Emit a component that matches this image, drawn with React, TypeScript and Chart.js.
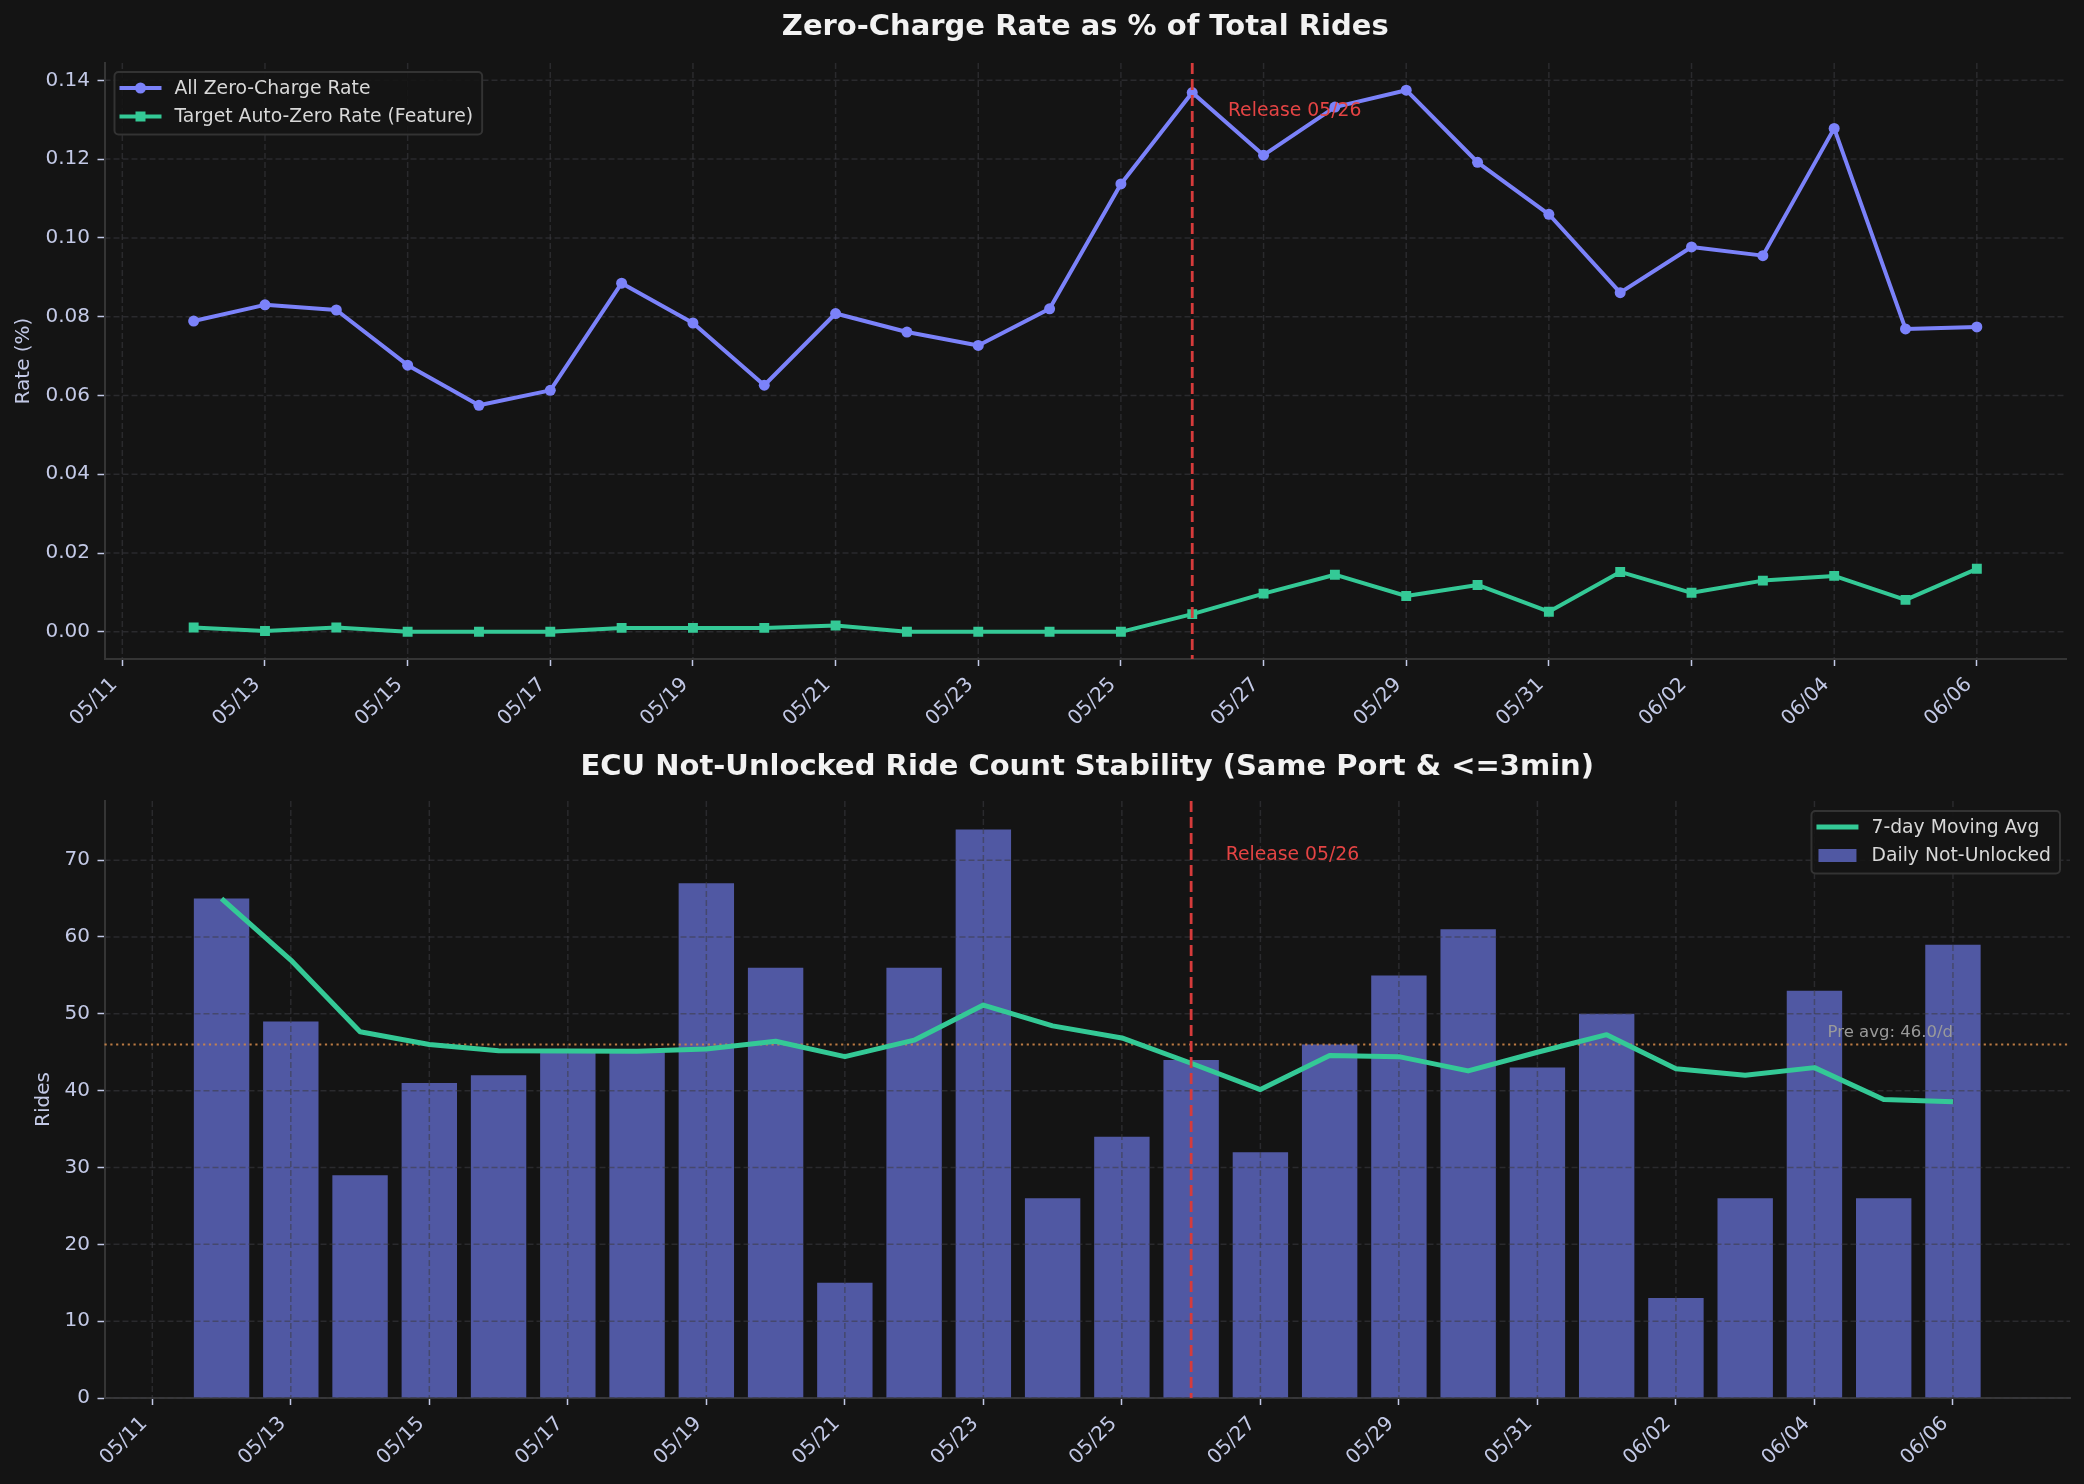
import React, { useEffect, useRef } from "react";
import { Chart, registerables } from "chart.js";

Chart.register(...registerables);

const FAMILY = "'DejaVu Sans', 'Liberation Sans', sans-serif";
const BG = "#141414";
const TICK = "#c3c9e6";
const SPINE = "#353535";
const GRID = "rgba(60, 60, 66, 0.55)";
const BLUE = "#7b82fa";
const GREEN = "#34c996";
const BAR = "#5058a3";
const RED = "#d63b3b";
const ORANGE = "rgba(205, 133, 72, 0.9)";

const W = 2084;
const TOP_H = 740;
const BOTTOM_H = 744;

// one entry per day
const days = [
    "05/12", "05/13", "05/14", "05/15", "05/16", "05/17", "05/18", "05/19", "05/20",
    "05/21", "05/22", "05/23", "05/24", "05/25", "05/26", "05/27", "05/28", "05/29",
    "05/30", "05/31", "06/01", "06/02", "06/03", "06/04", "06/05", "06/06",
];

// x tick labels, every other day starting at 05/11
const dateTicks = [
    "05/11", "05/13", "05/15", "05/17", "05/19", "05/21", "05/23",
    "05/25", "05/27", "05/29", "05/31", "06/02", "06/04", "06/06",
];

const rateTicks = [0, 0.02, 0.04, 0.06, 0.08, 0.1, 0.12, 0.14];
const rideTicks = [0, 10, 20, 30, 40, 50, 60, 70];

const allZeroRate = [
    0.0789, 0.083, 0.0817, 0.0677, 0.0575, 0.0613, 0.0885, 0.0784, 0.0626,
    0.0808, 0.0761, 0.0727, 0.082, 0.1137, 0.1369, 0.121, 0.1332, 0.1375,
    0.1192, 0.106, 0.0861, 0.0977, 0.0955, 0.1278, 0.0769, 0.0774,
];

const targetAutoZeroRate = [
    0.0011, 0.0002, 0.0011, 0.0, 0.0, 0.0, 0.001, 0.001, 0.001,
    0.0016, 0.0, 0.0, 0.0, 0.0, 0.0045, 0.0097, 0.0145, 0.0091,
    0.0119, 0.0051, 0.0152, 0.0099, 0.013, 0.0142, 0.0081, 0.016,
];

const dailyNotUnlocked = [
    65, 49, 29, 41, 42, 45, 45, 67, 56, 15, 56, 74, 26,
    34, 44, 32, 46, 55, 61, 43, 50, 13, 26, 53, 26, 59,
];

const movingAvg7 = [
    65.0, 57.0, 47.67, 46.0, 45.2, 45.17, 45.14, 45.43, 46.43, 44.43, 46.57, 51.14, 48.43,
    46.86, 43.57, 40.14, 44.57, 44.43, 42.57, 45.0, 47.29, 42.86, 42.0, 43.0, 38.86, 38.57,
];

const releaseDay = "05/26";
const preAvg = 46.0;

// position on the linear x axis: 05/11 = 0
const dayPos = (d: string) => days.indexOf(d) + 1;
const points = (values: number[]) => days.map((d, i) => ({ x: dayPos(d), y: values[i] }));

type LegendItem = { label: string; color: string; kind: "circle" | "square" | "line" | "bar" };

function drawLegend(chart: Chart, items: LegendItem[], corner: "left" | "right") {
    const { ctx, chartArea } = chart;
    ctx.save();
    ctx.font = `18.8px ${FAMILY}`;
    const textW = Math.max(...items.map((it) => ctx.measureText(it.label).width));
    const w = 60 + textW + 9;
    const rowH = 28.5;
    const h = 16 + rowH * (items.length - 1) + 18;
    const x0 = corner === "left" ? chartArea.left + 10 : chartArea.right - 10 - w;
    const y0 = chartArea.top + (corner === "left" ? 9 : 10);
    ctx.fillStyle = "rgba(20, 20, 20, 0.85)";
    ctx.strokeStyle = "#333333";
    ctx.lineWidth = 2;
    ctx.beginPath();
    ctx.roundRect(x0, y0, w, h, 4);
    ctx.fill();
    ctx.stroke();
    items.forEach((it, i) => {
        const cy = y0 + 16 + i * rowH;
        ctx.fillStyle = it.color;
        ctx.strokeStyle = it.color;
        if (it.kind === "bar") {
            ctx.fillRect(x0 + 7, cy - 6.5, 38, 13);
        } else {
            ctx.lineWidth = it.kind === "line" ? 5 : 4;
            ctx.beginPath();
            ctx.moveTo(x0 + 5, cy);
            ctx.lineTo(x0 + 47, cy);
            ctx.stroke();
            if (it.kind === "circle") {
                ctx.beginPath();
                ctx.arc(x0 + 26, cy, 5.5, 0, Math.PI * 2);
                ctx.fill();
            } else if (it.kind === "square") {
                ctx.fillRect(x0 + 21, cy - 5, 10, 10);
            }
        }
        ctx.fillStyle = "#d8d8d8";
        ctx.textAlign = "left";
        ctx.textBaseline = "middle";
        ctx.fillText(it.label, x0 + 60, cy + 1);
    });
    ctx.restore();
}

function drawGrid(chart: Chart) {
    const { ctx, chartArea: a, scales } = chart;
    ctx.save();
    ctx.strokeStyle = GRID;
    ctx.lineWidth = 1.5;
    ctx.setLineDash([6, 3]);
    scales.x.ticks.forEach((t) => {
        const px = scales.x.getPixelForValue(t.value);
        ctx.beginPath();
        ctx.moveTo(px, a.top);
        ctx.lineTo(px, a.bottom);
        ctx.stroke();
    });
    scales.y.ticks.forEach((t) => {
        const py = scales.y.getPixelForValue(t.value);
        ctx.beginPath();
        ctx.moveTo(a.left, py);
        ctx.lineTo(a.right, py);
        ctx.stroke();
    });
    ctx.restore();
}

function drawTitle(chart: Chart, text: string) {
    const { ctx, chartArea } = chart;
    ctx.save();
    ctx.font = `bold 29px ${FAMILY}`;
    ctx.fillStyle = "#f2f2f2";
    ctx.textAlign = "center";
    ctx.textBaseline = "middle";
    ctx.fillText(text, (chartArea.left + chartArea.right) / 2, 27);
    ctx.restore();
}

function drawRelease(chart: Chart, textY: number) {
    const { ctx, chartArea: a, scales } = chart;
    const px = scales.x.getPixelForValue(dayPos(releaseDay));
    ctx.save();
    ctx.strokeStyle = RED;
    ctx.lineWidth = 2.8;
    ctx.setLineDash([11, 5]);
    ctx.beginPath();
    ctx.moveTo(px, a.top);
    ctx.lineTo(px, a.bottom);
    ctx.stroke();
    ctx.font = `18.8px ${FAMILY}`;
    ctx.fillStyle = "#e44444";
    ctx.textAlign = "left";
    ctx.textBaseline = "middle";
    ctx.fillText(
        `Release ${releaseDay}`,
        scales.x.getPixelForValue(dayPos(releaseDay) + 0.5),
        scales.y.getPixelForValue(textY)
    );
    ctx.restore();
}

const xScale = (min: number, max: number, height: number) => ({
    type: "linear" as const,
    min,
    max,
    offset: false,
    afterFit: (s: any) => {
        s.height = height;
    },
    afterBuildTicks: (s: any) => {
        s.ticks = dateTicks.map((_, i) => ({ value: i * 2 }));
    },
    ticks: {
        autoSkip: false,
        maxRotation: 45,
        minRotation: 45,
        padding: 7,
        labelOffset: -8,
        color: TICK,
        font: { family: FAMILY, size: 20 },
        callback: (v: any) => dateTicks[Math.round(Number(v) / 2)] ?? "",
    },
    grid: { drawOnChartArea: false, offset: false, tickLength: 7, tickColor: TICK, tickWidth: 1.5 },
    border: { color: SPINE, width: 2 },
});

const yScale = (min: number, max: number, tickValues: number[], digits: number, title: string, titlePad: number) => ({
    type: "linear" as const,
    min,
    max,
    afterFit: (s: any) => {
        s.width = 104.5;
    },
    afterBuildTicks: (s: any) => {
        s.ticks = tickValues.map((v) => ({ value: v }));
    },
    ticks: {
        padding: 7.5,
        color: TICK,
        font: { family: FAMILY, size: 20 },
        callback: (v: any) => Number(v).toFixed(digits),
    },
    grid: { drawOnChartArea: false, tickLength: 7, tickColor: TICK, tickWidth: 1.5 },
    border: { color: SPINE, width: 2 },
    title: {
        display: true,
        text: title,
        color: TICK,
        font: { family: FAMILY, size: 20 },
        padding: { top: titlePad, bottom: 0 },
    },
});

const RateChart: React.FC = () => {
    const ref = useRef<HTMLCanvasElement | null>(null);

    useEffect(() => {
        if (!ref.current) return;
        const chart = new Chart(ref.current, {
            type: "line",
            data: {
                datasets: [
                    {
                        label: "All Zero-Charge Rate",
                        data: points(allZeroRate),
                        borderColor: BLUE,
                        backgroundColor: BLUE,
                        borderWidth: 4,
                        borderJoinStyle: "round",
                        pointStyle: "circle",
                        pointRadius: 5.5,
                        pointBorderWidth: 0,
                        tension: 0,
                    },
                    {
                        label: "Target Auto-Zero Rate (Feature)",
                        data: points(targetAutoZeroRate),
                        borderColor: GREEN,
                        backgroundColor: GREEN,
                        borderWidth: 4,
                        borderJoinStyle: "round",
                        pointStyle: "rect",
                        pointRadius: 7,
                        pointBorderWidth: 0,
                        tension: 0,
                    },
                ],
            },
            options: {
                animation: false,
                responsive: false,
                layout: { padding: { top: 63, right: 18, left: 0, bottom: 0 } },
                plugins: {
                    legend: { display: false },
                    title: { display: false },
                    tooltip: { enabled: false },
                },
                scales: {
                    x: xScale(-0.25, 27.25, TOP_H - 659),
                    y: yScale(-0.0069, 0.1444, rateTicks, 2, "Rate (%)", 12),
                },
            },
            plugins: [
                {
                    id: "decor",
                    beforeDatasetsDraw: (c: Chart) => drawGrid(c),
                    afterDraw: (c: Chart) => {
                        drawRelease(c, 0.1322);
                        drawLegend(
                            c,
                            [
                                { label: "All Zero-Charge Rate", color: BLUE, kind: "circle" },
                                { label: "Target Auto-Zero Rate (Feature)", color: GREEN, kind: "square" },
                            ],
                            "left"
                        );
                        drawTitle(c, "Zero-Charge Rate as % of Total Rides");
                    },
                },
            ],
        });
        return () => chart.destroy();
    }, []);

    return <canvas ref={ref} width={W} height={TOP_H} style={{ display: "block" }} />;
};

const RideCountChart: React.FC = () => {
    const ref = useRef<HTMLCanvasElement | null>(null);

    useEffect(() => {
        if (!ref.current) return;
        const chart = new Chart(ref.current, {
            type: "bar",
            data: {
                datasets: [
                    {
                        type: "line",
                        label: "7-day Moving Avg",
                        data: points(movingAvg7),
                        borderColor: GREEN,
                        backgroundColor: GREEN,
                        borderWidth: 5,
                        borderJoinStyle: "round",
                        pointRadius: 0,
                        tension: 0,
                        order: 0,
                    },
                    {
                        type: "bar",
                        label: "Daily Not-Unlocked",
                        data: points(dailyNotUnlocked),
                        backgroundColor: BAR,
                        borderWidth: 0,
                        barPercentage: 0.8,
                        categoryPercentage: 1.0,
                        order: 1,
                    },
                ],
            },
            options: {
                animation: false,
                responsive: false,
                layout: { padding: { top: 61, right: 14, left: 0, bottom: 0 } },
                plugins: {
                    legend: { display: false },
                    title: { display: false },
                    tooltip: { enabled: false },
                },
                scales: {
                    x: xScale(-0.69, 27.69, BOTTOM_H - 658),
                    y: yScale(0, 77.7, rideTicks, 0, "Rides", 31.5),
                },
            },
            plugins: [
                {
                    id: "decor",
                    afterDatasetDraw: (c: Chart, args: any) => {
                        if (args.meta.type !== "bar") return;
                        drawGrid(c);
                        const { ctx, chartArea: a, scales } = c;
                        const py = scales.y.getPixelForValue(preAvg);
                        ctx.save();
                        ctx.strokeStyle = ORANGE;
                        ctx.lineWidth = 2;
                        ctx.setLineDash([2.2, 3.6]);
                        ctx.beginPath();
                        ctx.moveTo(a.left, py);
                        ctx.lineTo(a.right, py);
                        ctx.stroke();
                        ctx.restore();
                    },
                    afterDraw: (c: Chart) => {
                        const { ctx, scales } = c;
                        drawRelease(c, 70.7);
                        ctx.save();
                        ctx.font = `16.5px ${FAMILY}`;
                        ctx.fillStyle = "#9a9a9a";
                        ctx.textAlign = "right";
                        ctx.textBaseline = "alphabetic";
                        ctx.fillText(
                            `Pre avg: ${preAvg.toFixed(1)}/d`,
                            scales.x.getPixelForValue(dayPos(days[days.length - 1])),
                            scales.y.getPixelForValue(preAvg + 1)
                        );
                        ctx.restore();
                        drawLegend(
                            c,
                            [
                                { label: "7-day Moving Avg", color: GREEN, kind: "line" },
                                { label: "Daily Not-Unlocked", color: BAR, kind: "bar" },
                            ],
                            "right"
                        );
                        drawTitle(c, "ECU Not-Unlocked Ride Count Stability (Same Port & <=3min)");
                    },
                },
            ],
        });
        return () => chart.destroy();
    }, []);

    return <canvas ref={ref} width={W} height={BOTTOM_H} style={{ display: "block" }} />;
};

export default function App() {
    useEffect(() => {
        document.body.style.margin = "0";
        document.body.style.background = BG;
    }, []);

    return (
        <div style={{ width: W, height: TOP_H + BOTTOM_H, background: BG, overflow: "hidden" }}>
            <RateChart />
            <RideCountChart />
        </div>
    );
}
